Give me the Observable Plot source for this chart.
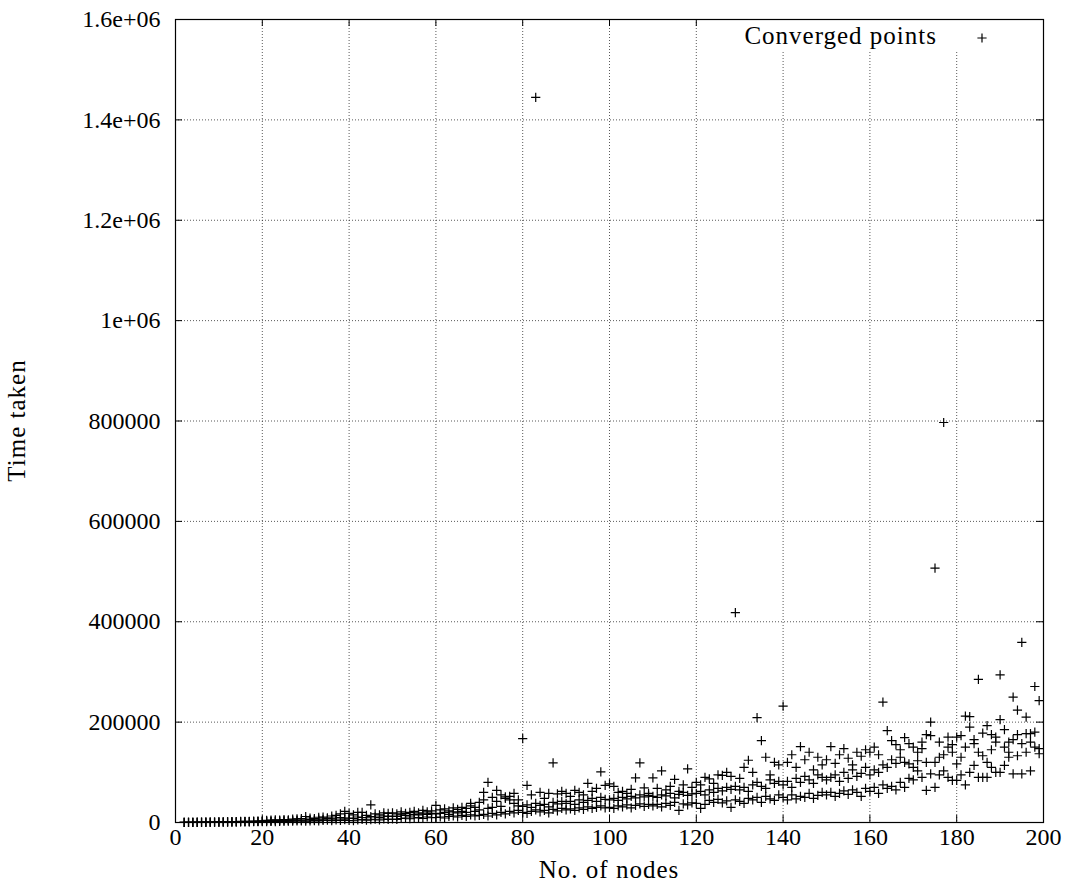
<!DOCTYPE html>
<html>
<head>
<meta charset="utf-8">
<script src="https://cdn.jsdelivr.net/npm/d3@7"></script>
<script src="https://cdn.jsdelivr.net/npm/@observablehq/plot@0.6"></script>
<style>
  html, body { margin: 0; padding: 0; background: #fff; }
  #chart svg { display: block; }
</style>
</head>
<body>
<div id="chart"></div>
<script>
// Node counts run from 2 to 199; three runs were timed for each count.
const firstNodeCount = 2;

// Time taken per run, in thousands of time units, for node counts 2..199.
const runA = [
  0.1,0.2,0.2,0.3,0.3,0.4,0.5,0.5,
  0.6,0.7,0.8,0.9,1.0,1.1,1.2,1.3,1.5,1.6,
  1.5,1.8,2.0,1.7,2.4,2.2,2.8,2.5,3.2,3.0,
  2.5,3.0,3.8,3.2,4.0,4.5,3.6,5.0,4.2,5.5,
  4.0,3.5,5.0,6.0,4.5,5.5,6.5,5.0,7.0,6.0,
  7,6,8,9,7.5,9,10,8,11,9.5,
  10,11,9,12,13,11,14,12,15,13,
  14,16,13,18,15,20,17,22,19,24,
  20,18,22,25,21,24,19,26,23,28,
  25,27,24,29,26,31,28,30,33,29,
  30,28,33,31,35,29,34,37,32,36,
  33,36,31,38,34,40,24,37,35,39,
  38,28,36,44,40,46,39,43,30,45,
  42,38,48,45,50,40,52,47,44,55,
  50,45,55,47,52,50,58,48,54,60,
  55,60,52,58,63,56,65,60,52,68,
  62,70,58,75,68,72,65,80,70,88,
  85,103,90,64,97,70,95,103,90,84,
  84,95,75,100,114,90,90,90,110,100,
  100,114,130,97,133,97,210,103,180,137
];
const runB = [
  0.2,0.3,0.3,0.4,0.5,0.6,0.6,0.8,
  0.9,1.0,1.1,1.2,1.4,1.5,1.7,1.8,2.0,2.2,
  2.5,3.0,2.8,3.5,3.2,4.0,3.8,4.5,5.0,4.6,
  5.0,6.0,5.5,7.0,6.5,8.0,7.2,9.0,10.0,8.5,
  9,8,11,10,9.5,12,11,10,13,12,
  13,12,15,14,13,16,15,17,16,18,
  17,18,20,16,21,19,22,20,38,22,
  25,60,28,30,64,32,51,45,38,33,
  32,35,30,38,34,36,31,40,37,42,
  38,42,36,45,40,44,48,42,50,46,
  45,48,44,50,47,52,49,55,51,54,
  52,50,55,53,58,49,56,60,54,57,
  58,62,55,65,60,68,63,70,66,72,
  65,70,62,75,80,72,68,85,78,82,
  75,82,70,88,80,92,85,78,95,90,
  85,90,95,82,100,88,105,92,98,110,
  95,105,100,115,110,125,118,130,120,117,
  110,123,147,120,173,120,130,797,150,140,
  117,130,150,190,157,140,133,120,145,160,
  205,185,160,250,224,157,177,160,271,147
];
const runC = [
  0.3,0.4,0.5,0.6,0.7,0.8,0.9,1.0,
  1.2,1.3,1.5,1.7,1.9,2.1,2.3,2.5,2.8,3.0,
  3.5,4.2,4.8,5.5,4.6,6.0,5.2,6.8,7.5,8.0,
  12.0,9.0,8.0,10.5,11.0,9.5,13.0,14.0,17.0,22.0,
  18,15,20,20,14,35,17,15,19,18,
  19,17,21,18,20,22,19,24,21,23,
  34,25,27,23,29,26,30,28,33,30,
  40,45,80,50,42,55,48,52,58,45,
  167,74,55,1445,60,48,58,119,57,62,
  58,52,64,60,55,78,62,68,101,74,
  77,72,60,62,58,66,89,119,69,58,
  89,68,103,65,72,86,62,75,107,70,
  80,75,90,87,78,95,94,100,92,418,
  88,110,124,100,209,163,130,95,120,115,
  232,120,135,110,151,125,140,105,130,115,
  125,151,118,135,147,128,115,140,132,145,
  140,150,135,240,183,163,155,145,169,157,
  150,140,160,175,200,507,160,135,170,155,
  170,173,212,211,165,285,178,193,175,170,
  294,150,140,165,175,359,140,177,150,243
];

const xTicks = [0, 20, 40, 60, 80, 100, 120, 140, 160, 180, 200];
const yTicks = [0, 200000, 400000, 600000, 800000, 1000000, 1200000, 1400000, 1600000];
const yTickLabels = ["0", "200000", "400000", "600000", "800000", "1e+06", "1.2e+06", "1.4e+06", "1.6e+06"];
const seriesName = "Converged points";
const xTitle = "No. of nodes";
const yTitle = "Time taken";

// Flatten the runs into one table of (nodes, time) pairs.
const points = [runA, runB, runC].flatMap(run =>
  run.map((v, i) => ({ nodes: firstNodeCount + i, time: v * 1000 }))
);

// Stroked "+" marker, like gnuplot's point type 1.
const plusSymbol = {
  draw(context, size) {
    const h = Math.sqrt(size / Math.PI);
    context.moveTo(-h, 0); context.lineTo(h, 0);
    context.moveTo(0, -h); context.lineTo(0, h);
  }
};

const width = 1073, height = 895;
const margin = { top: 19, right: 30, bottom: 73, left: 175 };
const innerH = height - margin.top - margin.bottom;
const innerW = width - margin.left - margin.right;
const tickLen = 7;
const font = "'Liberation Serif', 'DejaVu Serif', serif";

const gridStyle = { stroke: "#222", strokeOpacity: 0.75, strokeWidth: 1, strokeDasharray: "1,2" };

const plot = Plot.plot({
  width, height,
  marginTop: margin.top, marginRight: margin.right,
  marginBottom: margin.bottom, marginLeft: margin.left,
  style: { fontFamily: font, fontSize: "24px", background: "#fff", color: "#000" },
  x: { domain: [0, 200] },
  y: { domain: [0, 1600000] },
  marks: [
    Plot.gridX(xTicks.slice(1, -1), gridStyle),
    Plot.gridY(yTicks.slice(1, -1), gridStyle),
    // inward major ticks on all four sides
    Plot.ruleX(xTicks, { x: d => d, insetTop: innerH - tickLen, stroke: "#000" }),
    Plot.ruleX(xTicks, { x: d => d, insetBottom: innerH - tickLen, stroke: "#000" }),
    Plot.ruleY(yTicks, { y: d => d, insetRight: innerW - tickLen, stroke: "#000" }),
    Plot.ruleY(yTicks, { y: d => d, insetLeft: innerW - tickLen, stroke: "#000" }),
    Plot.axisX(xTicks, { tickSize: 0, tickPadding: 5, label: null, fontSize: 24 }),
    Plot.axisY(yTicks, {
      tickSize: 0, tickPadding: 15, label: null, fontSize: 24,
      tickFormat: d => yTickLabels[yTicks.indexOf(d)]
    }),
    Plot.dot(points, {
      x: "nodes", y: "time", symbol: plusSymbol, r: 4.6,
      fill: "none", stroke: "#000", strokeWidth: 1.2
    }),
    Plot.frame({ stroke: "#000", strokeWidth: 1.2 })
  ]
});

// Axis titles and the key, placed from the plot's own scales.
const svg = d3.select(plot);
const xs = plot.scale("x"), ys = plot.scale("y");
const [xl, xr] = xs.range;
const [yb, yt] = ys.range;

svg.append("text")
  .attr("x", (xl + xr) / 2).attr("y", height - 17)
  .attr("text-anchor", "middle")
  .style("font-family", font).style("font-size", "25px").style("letter-spacing", "1px")
  .text(xTitle);

svg.append("text")
  .attr("transform", `translate(25,${(yb + yt) / 2}) rotate(-90)`)
  .attr("text-anchor", "middle")
  .style("font-family", font).style("font-size", "25px").style("letter-spacing", "1px")
  .text(yTitle);

const key = svg.append("g");
key.append("rect")
  .attr("x", xr - 320).attr("y", yt + 1)
  .attr("width", 318).attr("height", 30)
  .attr("fill", "#fff");
key.append("text")
  .attr("x", xr - 106).attr("y", yt + 19)
  .attr("dominant-baseline", "middle")
  .attr("text-anchor", "end")
  .style("font-family", font).style("font-size", "25px").style("letter-spacing", "1px")
  .text(seriesName);
key.append("path")
  .attr("transform", `translate(${xr - 61},${yt + 19})`)
  .attr("d", "M-4.6,0H4.6M0,-4.6V4.6")
  .attr("stroke", "#000").attr("stroke-width", 1.2).attr("fill", "none");

// keep frame on top of the key background
svg.node().appendChild(svg.select("[aria-label=frame]").node());

document.getElementById("chart").appendChild(plot);
</script>
</body>
</html>
